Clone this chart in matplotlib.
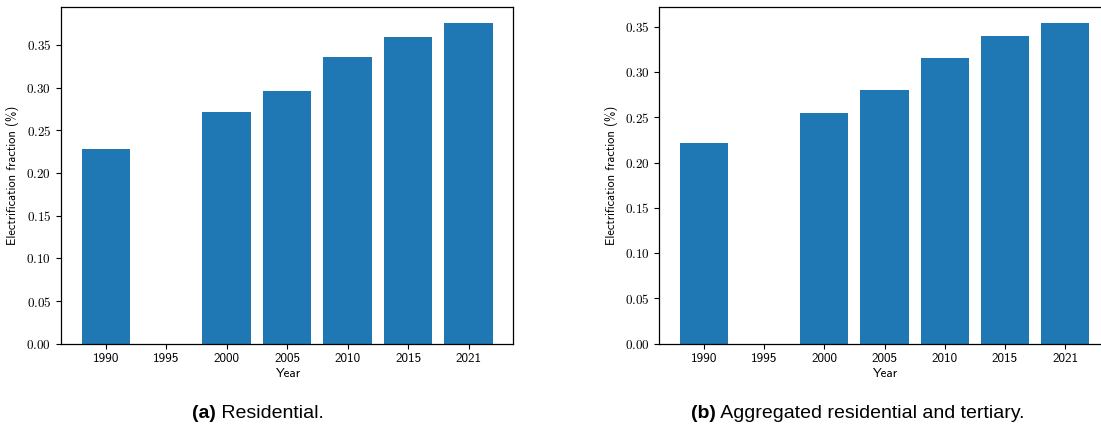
import matplotlib
matplotlib.use("Agg")
import matplotlib.pyplot as plt

plt.rcParams['mathtext.fontset'] = 'cm'
plt.rcParams['axes.unicode_minus'] = False

years = ["1990", "1995", "2000", "2005", "2010", "2015", "2021"]
residential = [0.228, 0.0, 0.271, 0.2965, 0.3355, 0.3595, 0.3753]
aggregated = [0.2213, 0.0, 0.2552, 0.2798, 0.3158, 0.3401, 0.3539]
captions = [("(a)", "Residential."), ("(b)", "Aggregated residential and tertiary.")]
yticks = [0.0, 0.05, 0.10, 0.15, 0.20, 0.25, 0.30, 0.35]

W, H = 1101, 430
fig = plt.figure(figsize=(W / 100, H / 100), dpi=100)

axes_px = [(61, 513.3), (659.3, 1109.8)]
bottom_px, top_px = 343.7, 7.3
cap_centers = [258, 858]
color = "#1f77b4"

for i, ((x0, x1), vals, cap, cc) in enumerate(zip(axes_px, [residential, aggregated], captions, cap_centers)):
    ax = fig.add_axes([x0 / W, 1 - bottom_px / H, (x1 - x0) / W, (bottom_px - top_px) / H])
    pos = list(range(len(years)))
    ax.bar(pos, vals, width=0.8, color=color)
    ax.set_xticks(pos)
    ax.set_xticklabels(years, fontsize=9.5, family='cmss10')
    ax.set_yticks(yticks)
    ax.set_yticklabels([r"$%.2f$" % v for v in yticks], fontsize=9.5)
    ax.set_xlabel("Year", fontsize=9.5, family='cmss10', labelpad=1.5)
    ax.set_ylabel("Electrification fraction (%)", fontsize=9, family='cmss10', labelpad=5)
    ax.tick_params(length=3.5, width=0.8, pad=3.5)
    for s in ax.spines.values():
        s.set_linewidth(0.9)
    if i == 1:
        ax.spines['right'].set_visible(False)

    # caption
    y = 1 - 413 / H
    t1 = fig.text(0, y, cap[0], fontsize=14, fontweight='bold', family='Liberation Sans', va='center')
    t2 = fig.text(0, y, " " + cap[1], fontsize=14, family='Liberation Sans', va='center')
    fig.canvas.draw()
    r = fig.canvas.get_renderer()
    w1 = t1.get_window_extent(r).width
    w2 = t2.get_window_extent(r).width
    start = cc - (w1 + w2) / 2
    t1.set_x(start / W)
    t2.set_x((start + w1) / W)

fig.savefig("out.png", dpi=100)
